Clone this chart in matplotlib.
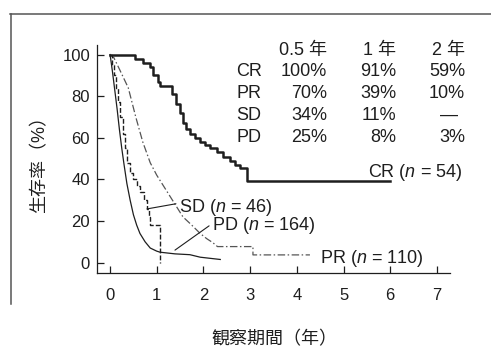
import matplotlib
matplotlib.use("Agg")
import matplotlib.pyplot as plt
from matplotlib.lines import Line2D

plt.rcParams['font.family'] = ['Liberation Sans', 'Noto Sans CJK JP', 'DejaVu Sans']
plt.rcParams['mathtext.fontset'] = 'custom'
plt.rcParams['mathtext.it'] = 'Liberation Sans:italic'
plt.rcParams['mathtext.rm'] = 'Liberation Sans'

# ---- data ----
cr_t = [0, 0.54, 0.71, 0.86, 0.92, 1.02, 1.07, 1.33, 1.42, 1.50, 1.56, 1.63, 1.71, 1.82,
        1.93, 2.04, 2.14, 2.28, 2.42, 2.57, 2.68, 2.78, 2.93, 6.0]
cr_s = [100, 98, 96, 94, 90, 87, 85, 81, 76, 72, 67, 64, 62, 60,
        58, 56.5, 55, 53, 51, 49, 47, 45.5, 39, 39]

pr_t = [0, 0.07, 0.20, 0.39, 0.55, 0.70, 0.86, 1.00, 1.14, 1.28, 1.42, 1.56, 1.75, 1.93,
        2.07, 2.20, 2.30, 3.06, 3.06, 4.28]
pr_s = [100, 99, 93, 84, 70, 58, 48, 42, 37, 32, 27, 22, 18, 14,
        11.5, 9.6, 7.7, 7.7, 3.7, 3.7]

sd_t = [0, 0.04, 0.08, 0.12, 0.17, 0.22, 0.27, 0.31, 0.36, 0.43, 0.50, 0.57, 0.64, 0.72,
        0.79, 0.84, 0.86, 1.07]
sd_s = [100, 95, 90, 84, 77, 70, 62, 55, 48, 43, 40, 37, 34, 30,
        26, 22, 18, 0]

pd_t = [0, 0.05, 0.10, 0.15, 0.20, 0.25, 0.30, 0.36, 0.43, 0.50, 0.57, 0.64, 0.75, 0.86,
        1.00, 1.07, 1.39, 1.71, 1.93, 2.36]
pd_s = [100, 92, 83, 74, 64, 55, 47, 38, 30, 23, 18, 14, 10, 7,
        5.5, 5, 4.2, 3.8, 2.6, 1.5]

groups = ['CR', 'PR', 'SD', 'PD']
group_n = [54, 110, 46, 164]
table_cols = ['0.5 年', '1 年', '2 年']
table_vals = [['100%', '91%', '59%'],
              ['70%', '39%', '10%'],
              ['34%', '11%', '—'],
              ['25%', '8%', '3%']]

x_ticks = [0, 1, 2, 3, 4, 5, 6, 7]
y_ticks = [0, 20, 40, 60, 80, 100]

# ---- figure ----
W, H = 491, 356
fig = plt.figure(figsize=(W / 100, H / 100), dpi=100)
ink = '#1e1e1e'

def fx(px):
    return px / W

def fy(py):
    return 1 - py / H

# scanned frame lines
fig.add_artist(Line2D([fx(10), fx(491)], [fy(14), fy(14)], color='#555555', lw=1.1))
fig.add_artist(Line2D([fx(11), fx(11)], [fy(14), fy(304)], color='#555555', lw=1.1))

ax = fig.add_axes([fx(97), fy(273), fx(450) - fx(97), fy(45) - fy(273)])
ax.set_xlim(-0.28, 7.28)
ax.set_ylim(-5, 104.6)
ax.patch.set_alpha(0)

ax.plot(cr_t, cr_s, drawstyle='steps-post', color=ink, lw=1.8)
ax.plot(pr_t, pr_s, color='#555555', lw=0.9, linestyle=(0, (6, 2, 1.2, 2)))
ax.plot(sd_t, sd_s, drawstyle='steps-post', color=ink, lw=1.0, linestyle=(0, (3.5, 1.5)))
ax.plot(pd_t, pd_s, color=ink, lw=0.9)

for s in ['top', 'right']:
    ax.spines[s].set_visible(False)
for s in ['left', 'bottom']:
    ax.spines[s].set_color(ink)
    ax.spines[s].set_linewidth(0.9)

ax.set_xticks(x_ticks)
ax.set_yticks(y_ticks)
ax.tick_params(axis='both', direction='in', length=5, width=0.9, colors=ink, labelsize=12)
ax.tick_params(axis='x', pad=11)
ax.tick_params(axis='y', pad=5)

# labels
fig.text(fx(40), fy(160), '生存率（%）', rotation=90, ha='center', va='center',
         fontsize=13, color=ink)
fig.text(fx(274), fy(340), '観察期間（年）', ha='center', va='center', fontsize=13, color=ink)

# curve labels
fs = 13
lab = [f'{g} ($n$ = {n})' for g, n in zip(groups, group_n)]
ax.text(5.52, 43.5, lab[0], ha='left', va='center', fontsize=fs, color=ink)
ax.text(4.5, 2.2, lab[1], ha='left', va='center', fontsize=fs, color=ink)
ax.annotate(lab[2], xy=(0.79, 25.8), xytext=(1.47, 26.5), ha='left', va='center',
            fontsize=fs, color=ink,
            arrowprops=dict(arrowstyle='-', color=ink, lw=0.8, shrinkA=0, shrinkB=0,
                            relpos=(0, 0.7)))
ax.annotate(lab[3], xy=(1.39, 6.0), xytext=(2.18, 17.6), ha='left', va='center',
            fontsize=fs, color=ink,
            arrowprops=dict(arrowstyle='-', color=ink, lw=0.8, shrinkA=0, shrinkB=0,
                            relpos=(0, 0.6)))

# table
col_x = [327, 396, 465]
row_y = [71, 93, 115, 137]
for j, c in enumerate(table_cols):
    fig.text(fx(col_x[j]), fy(50), c, ha='right', va='center', fontsize=fs, color=ink)
for i, g in enumerate(groups):
    fig.text(fx(236), fy(row_y[i]), g, ha='left', va='center', fontsize=fs, color=ink)
    for j, v in enumerate(table_vals[i]):
        if v == '—':
            fig.text(fx(449), fy(row_y[i]), v, ha='center', va='center', fontsize=fs, color=ink)
        else:
            fig.text(fx(col_x[j]), fy(row_y[i]), v, ha='right', va='center', fontsize=fs, color=ink)

fig.savefig('out.png', dpi=100)
